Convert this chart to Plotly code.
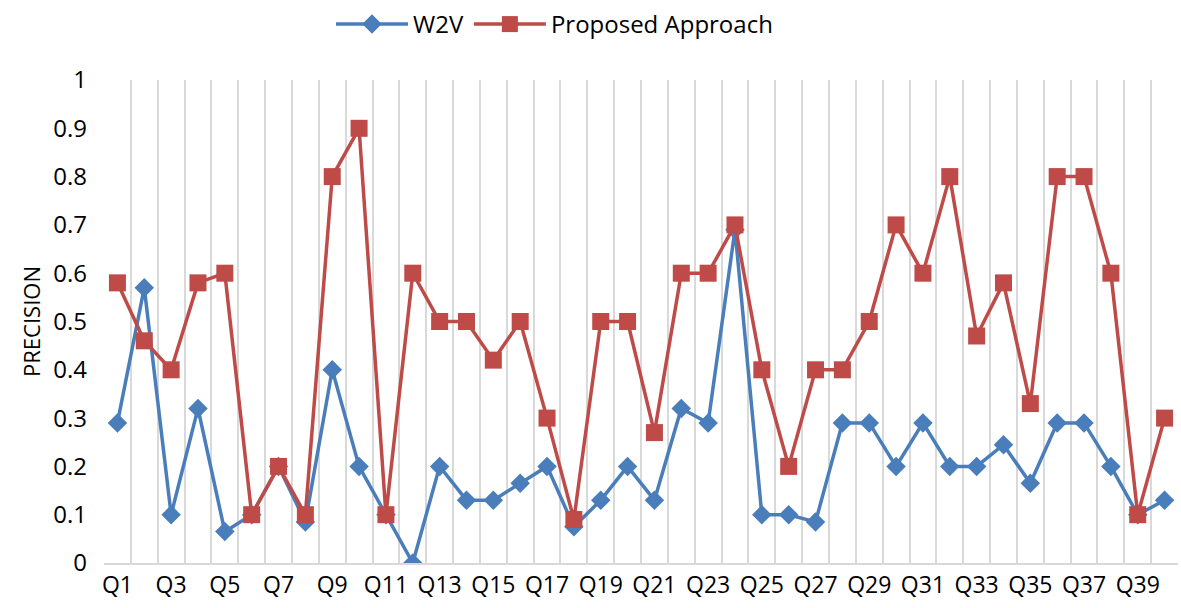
import plotly.graph_objects as go

categories = [f"Q{i}" for i in range(1, 41)]
w2v = [0.29, 0.57, 0.10, 0.32, 0.065, 0.10, 0.20, 0.085, 0.40, 0.20,
       0.10, 0.0, 0.20, 0.13, 0.13, 0.165, 0.20, 0.075, 0.13, 0.20,
       0.13, 0.32, 0.29, 0.69, 0.10, 0.10, 0.085, 0.29, 0.29, 0.20,
       0.29, 0.20, 0.20, 0.245, 0.165, 0.29, 0.29, 0.20, 0.10, 0.13]
proposed = [0.58, 0.46, 0.40, 0.58, 0.60, 0.10, 0.20, 0.10, 0.80, 0.90,
            0.10, 0.60, 0.50, 0.50, 0.42, 0.50, 0.30, 0.09, 0.50, 0.50,
            0.27, 0.60, 0.60, 0.70, 0.40, 0.20, 0.40, 0.40, 0.50, 0.70,
            0.60, 0.80, 0.47, 0.58, 0.33, 0.80, 0.80, 0.60, 0.10, 0.30]
y_ticks = [0, 0.1, 0.2, 0.3, 0.4, 0.5, 0.6, 0.7, 0.8, 0.9, 1]
y_tick_labels = ["0", "0.1", "0.2", "0.3", "0.4", "0.5", "0.6", "0.7", "0.8", "0.9", "1"]

x_idx = list(range(len(categories)))
x_tickvals = x_idx[::2]
x_ticktext = categories[::2]

FONT = "Open Sans"
BLUE = "#4A7EBB"
RED = "#BE4B48"

fig = go.Figure()
fig.add_trace(go.Scatter(
    x=x_idx, y=w2v, name="W2V", mode="lines+markers",
    line=dict(color=BLUE, width=3.5),
    marker=dict(symbol="diamond", size=15, color=BLUE),
))
fig.add_trace(go.Scatter(
    x=x_idx, y=proposed, name="Proposed Approach", mode="lines+markers",
    line=dict(color=RED, width=3.5),
    marker=dict(symbol="square", size=17, color=RED),
))

fig.update_layout(
    template="none",
    width=1181, height=608,
    margin=dict(l=104, r=3, t=80, b=45, autoexpand=False),
    paper_bgcolor="white", plot_bgcolor="white",
    font=dict(family=FONT, size=23, color="#000000"),
    showlegend=True,
    legend=dict(orientation="h", x=(331 - 104) / 1074, xanchor="left",
                y=1 + 78 / 483, yanchor="top",
                font=dict(family=FONT, size=24, color="#000000"),
                itemwidth=72, traceorder="normal", bgcolor="rgba(0,0,0,0)",
                borderwidth=0),
)
fig.update_xaxes(
    automargin=False,
    range=[-0.5, len(categories) - 0.5],
    tickmode="array", tickvals=x_tickvals, ticktext=x_ticktext,
    tickangle=0, showgrid=False, zeroline=False, ticks="",
    showline=True, linecolor="#D9D9D9", linewidth=2,
    tickfont=dict(family=FONT, size=23, color="#000000"),
    minor=dict(tick0=-0.5, dtick=1, showgrid=True, gridcolor="#D9D9D9", gridwidth=2, ticks=""),
    fixedrange=True,
)
fig.update_yaxes(
    automargin=False,
    range=[0, 1], tickmode="array", tickvals=y_ticks, ticktext=y_tick_labels,
    showgrid=False, zeroline=False, showline=False, ticks="",
    ticklabelstandoff=16,
    tickfont=dict(family=FONT, size=24, color="#000000"),
    title=dict(text="PRECISION", standoff=6, font=dict(family=FONT, size=22, color="#000000")),
    fixedrange=True,
)

fig.write_html("out.html", config={"displayModeBar": False},
               post_script="document.body.style.margin='0px';document.body.style.overflow='hidden';")
